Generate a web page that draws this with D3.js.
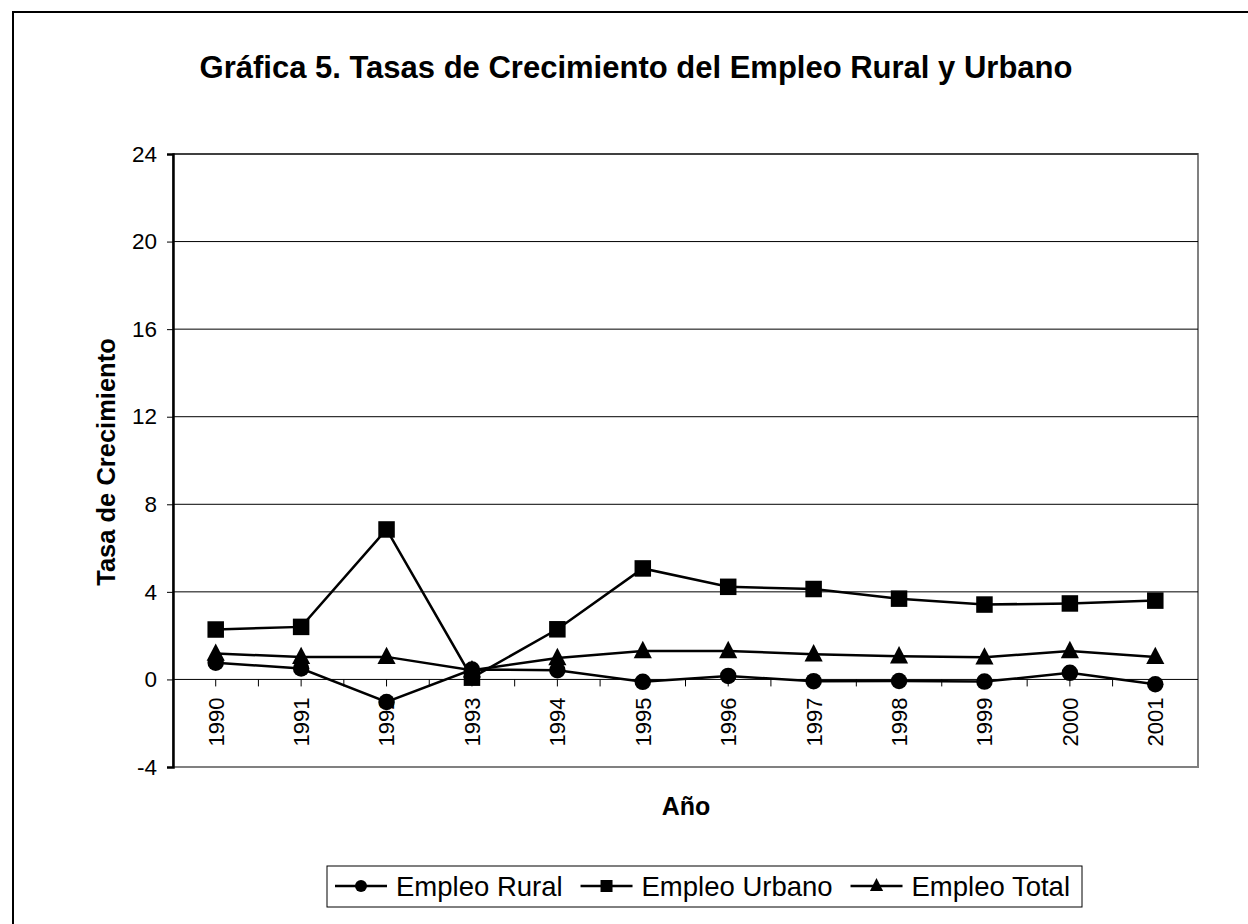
<!DOCTYPE html>
<html>
<head>
<meta charset="utf-8">
<script src="https://cdn.jsdelivr.net/npm/d3@7"></script>
<style>
  body { margin: 0; background: #fff; }
  svg { display: block; font-family: Arial, "Liberation Sans", sans-serif; }
</style>
</head>
<body>
<script>
// data
var years = ["1990", "1991", "1992", "1993", "1994", "1995", "1996", "1997", "1998", "1999", "2000", "2001"];
var rural  = [0.76, 0.50, -1.03, 0.45, 0.42, -0.11, 0.16, -0.08, -0.07, -0.10, 0.30, -0.22];
var urbano = [2.28, 2.40, 6.85, 0.08, 2.29, 5.07, 4.23, 4.13, 3.69, 3.42, 3.47, 3.60];
var total  = [1.18, 1.03, 1.03, 0.42, 0.98, 1.30, 1.30, 1.15, 1.06, 1.01, 1.30, 1.03];
var yTicks = [-4, 0, 4, 8, 12, 16, 20, 24];
var seriesNames = ["Empleo Rural", "Empleo Urbano", "Empleo Total"];
var seriesShapes = ["circle", "square", "triangle"];

var width = 1248, height = 924;
var plot = {left: 173, top: 154, right: 1198, bottom: 767};
var font = "Arial, 'Liberation Sans', sans-serif";

var svg = d3.select("body").append("svg")
    .attr("width", width)
    .attr("height", height);

// outer chart frame (runs off the right/bottom edge)
svg.append("rect")
    .attr("x", 13).attr("y", 12)
    .attr("width", 1300).attr("height", 1000)
    .attr("fill", "#fff")
    .attr("stroke", "#000")
    .attr("stroke-width", 2);

var x = d3.scaleBand().domain(years).range([plot.left, plot.right]);
var y = d3.scaleLinear().domain([-4, 24]).range([plot.bottom, plot.top]);
var cx = function(d) { return x(d) + x.bandwidth() / 2; };

// plot area border
svg.append("rect")
    .attr("x", plot.left).attr("y", plot.top)
    .attr("width", plot.right - plot.left)
    .attr("height", plot.bottom - plot.top)
    .attr("fill", "#fff")
    .attr("stroke", "#808080")
    .attr("stroke-width", 2);

// gridlines
svg.append("g").selectAll("line")
    .data(yTicks.filter(function(d) { return d > -4; }))
    .enter().append("line")
    .attr("x1", plot.left).attr("x2", plot.right)
    .attr("y1", function(d) { return y(d); })
    .attr("y2", function(d) { return y(d); })
    .attr("stroke", "#000")
    .attr("stroke-width", 1);

// y axis
var yAxis = svg.append("g")
    .attr("transform", "translate(" + plot.left + ",0)")
    .call(d3.axisLeft(y).tickValues(yTicks).tickSize(6).tickPadding(10)
      .tickFormat(function(d) { return String(d); }));
yAxis.select(".domain").attr("stroke", "#000").attr("stroke-width", 2.5);
yAxis.selectAll("text").attr("font-size", 22.5).attr("fill", "#000")
    .attr("font-family", font);

// x axis sits on zero
var xAxis = svg.append("g")
    .attr("transform", "translate(0," + y(0) + ")")
    .call(d3.axisBottom(x).tickSize(0).tickPadding(0));
xAxis.select(".domain").remove();
xAxis.selectAll("text")
    .attr("font-size", 22).attr("fill", "#000")
    .attr("font-family", font)
    .attr("text-anchor", "end")
    .attr("transform", "rotate(-90)")
    .attr("x", -18).attr("y", 0).attr("dy", "0.36em");

// tick marks at band edges and category centres
var tickXs = years.slice(1).map(function(d) { return x(d); })
    .concat(years.map(cx));
svg.append("g").selectAll("line")
    .data(tickXs)
    .enter().append("line")
    .attr("x1", function(d) { return d; })
    .attr("x2", function(d) { return d; })
    .attr("y1", y(0)).attr("y2", y(0) + 7)
    .attr("stroke", "#000").attr("stroke-width", 1);

// marker drawing
function marker(g, shape, size) {
  if (shape === "circle") {
    g.append("circle").attr("r", size / 2).attr("fill", "#000");
  } else if (shape === "square") {
    g.append("rect").attr("x", -size / 2).attr("y", -size / 2)
      .attr("width", size).attr("height", size).attr("fill", "#000");
  } else {
    var s = size * 1.1, h = s * 0.9;
    g.append("path")
      .attr("d", "M0," + (-h / 2 - 2) + "L" + (s / 2) + "," + (h / 2 - 1) + "L" + (-s / 2) + "," + (h / 2 - 1) + "Z")
      .attr("fill", "#000");
  }
}

var series = [rural, urbano, total];
var line = d3.line()
    .x(function(d, i) { return cx(years[i]); })
    .y(function(d) { return y(d); });

series.forEach(function(vals, s) {
  svg.append("path")
      .datum(vals)
      .attr("d", line)
      .attr("fill", "none")
      .attr("stroke", "#000")
      .attr("stroke-width", 2.5);
  vals.forEach(function(v, i) {
    var g = svg.append("g")
        .attr("transform", "translate(" + cx(years[i]) + "," + y(v) + ")");
    marker(g, seriesShapes[s], 16.5);
  });
});

// title and axis titles
svg.append("text")
    .attr("x", 636).attr("y", 78)
    .attr("text-anchor", "middle")
    .attr("font-size", 31).attr("font-weight", "bold")
    .text("Gráfica 5. Tasas de Crecimiento del Empleo Rural y Urbano");

svg.append("text")
    .attr("transform", "translate(115,462) rotate(-90)")
    .attr("text-anchor", "middle")
    .attr("font-size", 25.5).attr("font-weight", "bold")
    .text("Tasa de Crecimiento");

svg.append("text")
    .attr("x", 686).attr("y", 815)
    .attr("text-anchor", "middle")
    .attr("font-size", 25).attr("font-weight", "bold")
    .text("Año");

// legend: entries spread so the last label ends near the box's right edge
var legLeft = 327, legRight = 1082;
svg.append("rect")
    .attr("x", legLeft).attr("y", 866)
    .attr("width", legRight - legLeft).attr("height", 41)
    .attr("fill", "#fff")
    .attr("stroke", "#000").attr("stroke-width", 1);
var entries = seriesNames.map(function(name, s) {
  var g = svg.append("g");
  g.append("line").attr("x1", 0).attr("x2", 52).attr("y1", 0).attr("y2", 0)
      .attr("stroke", "#000").attr("stroke-width", 2.5);
  var m = g.append("g").attr("transform", "translate(26,0)");
  marker(m, seriesShapes[s], 12);
  var t = g.append("text")
      .attr("x", 61).attr("y", 0).attr("dy", "0.36em")
      .attr("font-size", 27.5)
      .text(name);
  return {g: g, w: 61 + t.node().getComputedTextLength()};
});
var used = d3.sum(entries, function(e) { return e.w; });
var gap = (legRight - 12 - (legLeft + 8) - used) / (entries.length - 1);
var cursor = legLeft + 8;
entries.forEach(function(e) {
  e.g.attr("transform", "translate(" + cursor + ",886)");
  cursor += e.w + gap;
});
</script>
</body>
</html>
